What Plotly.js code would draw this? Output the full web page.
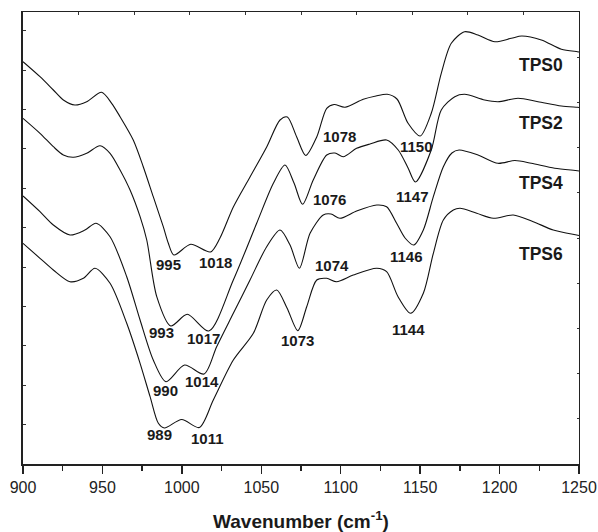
<!DOCTYPE html>
<html>
<head>
<meta charset="utf-8">
<script src="https://cdn.plot.ly/plotly-3.0.1.min.js"></script>
<style>html,body{margin:0;padding:0;background:#fff;}#chart{width:598px;height:532px;}</style>
</head>
<body>
<div id="chart"></div>
<script>
// Wavenumber (cm-1) and intensity (a.u.)
var tps0_x = [900, 910.7, 919.1, 925.4, 932.7, 940.1, 949.5, 955.8, 961.1, 969.4, 975.7, 982, 988.3, 991.5, 995, 1005.6, 1018, 1024, 1032.4, 1042.9, 1053.4, 1061.8, 1066.4, 1072.3, 1078, 1084.9, 1091.2, 1095.8, 1102.7, 1114.2, 1122.2, 1129.3, 1135.4, 1142.4, 1150, 1157, 1163.3, 1169.6, 1178, 1186.4, 1197.1, 1207.4, 1214, 1226.3, 1238.9, 1249, 1250];
var tps0_y = [402.3, 387.3, 374, 364, 359, 362.3, 371.7, 360.7, 347.3, 324, 297.3, 267.3, 237.3, 220.7, 209, 219.7, 212, 226, 257, 287, 317, 344, 347, 327, 308.5, 327, 355.7, 359.5, 356.7, 364.7, 368, 369.7, 365, 340.7, 328, 350.7, 390.7, 420.7, 432.3, 429, 422.3, 425.7, 428, 424, 414.7, 412.3, 412];

var tps2_x = [900, 910.7, 919.1, 925.4, 931.7, 940.1, 948.5, 954.8, 961.1, 967.4, 973.7, 977.9, 984.2, 993, 1003.4, 1017, 1032.4, 1047.1, 1057.6, 1064.9, 1070.6, 1076, 1082.7, 1091.2, 1096.4, 1101.6, 1110, 1118.4, 1128.9, 1136.2, 1142.4, 1147, 1157, 1163.3, 1171.8, 1178, 1190.6, 1199, 1211.6, 1224.2, 1238.9, 1249, 1250];
var tps2_y = [345.7, 330.7, 317.3, 309, 306.7, 310.7, 318.3, 310.7, 294, 274, 247.3, 224, 167.3, 138, 149.7, 133, 184, 240.7, 280.7, 299, 281, 259.7, 284, 309, 311, 307.3, 315.7, 320, 324, 314, 296, 282, 314, 354, 367.3, 369.7, 364, 362.3, 365.7, 362.3, 358, 356.7, 356.5];

var tps4_x = [900, 910.7, 919.1, 929.6, 939, 946, 954.8, 965.3, 973.7, 982, 990, 1001.7, 1014, 1021.9, 1032.4, 1042.9, 1053.4, 1061.8, 1068.1, 1074, 1080.7, 1089, 1093.9, 1099.5, 1110, 1122.7, 1128.9, 1135.2, 1140.5, 1146, 1152, 1158.3, 1164.6, 1170, 1174.5, 1186.4, 1199, 1209.7, 1220, 1234.7, 1249, 1250];
var tps4_y = [268, 252.3, 239, 229, 234, 240.7, 227.3, 187.3, 144, 104, 82.3, 99, 90, 117.3, 150.7, 184, 217.3, 234, 219, 195.7, 230.7, 249, 250, 245.7, 253, 259, 257.3, 240.7, 226, 219, 234, 267.3, 297.3, 311, 314, 309, 300.7, 303.5, 300.7, 295.7, 293.3, 293];

var tps6_x = [900, 910.7, 919.1, 929.6, 938, 945.3, 954.8, 965.3, 973.7, 980, 985.2, 989, 999.9, 1011, 1019.8, 1032.4, 1045, 1053.4, 1059.7, 1066.2, 1073, 1078.6, 1084.9, 1091.2, 1097.4, 1107.9, 1122.7, 1128.9, 1136.1, 1144, 1152, 1158.3, 1164.6, 1170.9, 1175.1, 1185.6, 1196.1, 1208.6, 1221.2, 1233.8, 1248.5, 1250];
var tps6_y = [220.7, 205.7, 194, 182.3, 185.7, 195.7, 180.7, 140.7, 100.7, 67.3, 40.7, 36, 44.5, 36.5, 64, 104, 130.7, 164, 174, 156, 133.3, 157.3, 184, 185.7, 182.3, 189, 195.7, 192.3, 167.3, 150.7, 170.7, 210.7, 244, 254, 255.7, 250.7, 245.7, 249, 242.3, 234, 229, 228.5];

var seriesNames = ["TPS0", "TPS2", "TPS4", "TPS6"];
var peakLabels = ["995", "1018", "1078", "1150", "993", "1017", "1076", "1147", "990", "1014", "1074", "1146", "989", "1011", "1073", "1144"];
var xTickLabels = ["900", "950", "1000", "1050", "1100", "1150", "1200", "1250"];

// label anchor positions (layout)
var peakPos = [[991.3,200],[1020.9,202],[1099.4,327.3],[1147.6,317.3],[987.3,131.7],[1013.5,125.7],[1093.1,264.7],[1145.5,267.3],[989.4,74],[1012.5,82.3],[1094.2,198.5],[1141.3,207.3],[985.8,30],[1016,25.7],[1072.7,124],[1142.4,135]];
var namePos = [[1225.9,399],[1225.9,341.3],[1225.9,281.3],[1225.9,210]];

var FONT = "'Liberation Sans', Arial, Helvetica, sans-serif";
var xs = [tps0_x, tps2_x, tps4_x, tps6_x];
var ys = [tps0_y, tps2_y, tps4_y, tps6_y];
var traces = [];
for (var i = 0; i < 4; i++) {
  traces.push({x: xs[i], y: ys[i], name: seriesNames[i], type: 'scatter', mode: 'lines',
    line: {color: '#111', width: 1.1, shape: 'spline', smoothing: 0.8}, hoverinfo: 'skip'});
}
traces.push({x: [900], y: [0], xaxis: 'x2', yaxis: 'y2', mode: 'markers', marker: {opacity: 0}, hoverinfo: 'skip', showlegend: false});

var ann = [];
for (var j = 0; j < peakLabels.length; j++) {
  ann.push({x: peakPos[j][0], y: peakPos[j][1], text: '<b>' + peakLabels[j] + '</b>', showarrow: false,
    font: {family: FONT, size: 15, color: '#1a1a1a'}, xanchor: 'center', yanchor: 'middle'});
}
for (var k = 0; k < 4; k++) {
  ann.push({x: namePos[k][0], y: namePos[k][1], text: '<b>' + seriesNames[k] + '</b>', showarrow: false,
    font: {family: FONT, size: 17.5, color: '#1a1a1a'}, xanchor: 'center', yanchor: 'middle'});
}

var tickVals = xTickLabels.map(Number);

var layout = {
  width: 598, height: 532,
  margin: {l: 23, r: 19, t: 12, b: 68},
  paper_bgcolor: '#fff', plot_bgcolor: '#fff',
  showlegend: false,
  xaxis: {
    range: [900, 1250], tickmode: 'array', tickvals: tickVals, ticktext: xTickLabels,
    ticks: 'outside', ticklen: 8, tickwidth: 1.5, tickcolor: '#222',
    showline: true, linewidth: 2, linecolor: '#222', showgrid: false, zeroline: false,
    tickfont: {family: FONT, size: 16, color: '#222'},
    minor: {dtick: 25, tick0: 900, ticks: 'outside', ticklen: 4.5, tickwidth: 1.5, tickcolor: '#222', showgrid: false},
    title: {text: '<b>Wavenumber (cm<sup>-1</sup>)</b>', font: {family: FONT, size: 19, color: '#1a1a1a'}, standoff: 20},
    fixedrange: true
  },
  xaxis2: {
    range: [900, 1250], overlaying: 'x', side: 'top', anchor: 'y', tick0: 900, dtick: 35,
    ticks: 'inside', ticklen: 2.5, tickwidth: 1, tickcolor: '#333',
    showline: true, linewidth: 1.2, linecolor: '#222', showgrid: false, zeroline: false, showticklabels: false
  },
  yaxis: {
    range: [0, 452], tick0: 0, dtick: 39.4, ticks: 'inside', ticklen: 2.5, tickwidth: 1, tickcolor: '#333',
    showline: true, linewidth: 2, linecolor: '#222', showgrid: false, zeroline: false, showticklabels: false,
    fixedrange: true
  },
  yaxis2: {
    range: [0, 452], overlaying: 'y', side: 'right', anchor: 'x2', tick0: 0, dtick: 45.2,
    ticks: 'inside', ticklen: 2.5, tickwidth: 1, tickcolor: '#333',
    showline: true, linewidth: 1.2, linecolor: '#222', showgrid: false, zeroline: false, showticklabels: false
  },
  annotations: ann
};

Plotly.newPlot('chart', traces, layout, {displayModeBar: false, staticPlot: true});
</script>
</body>
</html>
